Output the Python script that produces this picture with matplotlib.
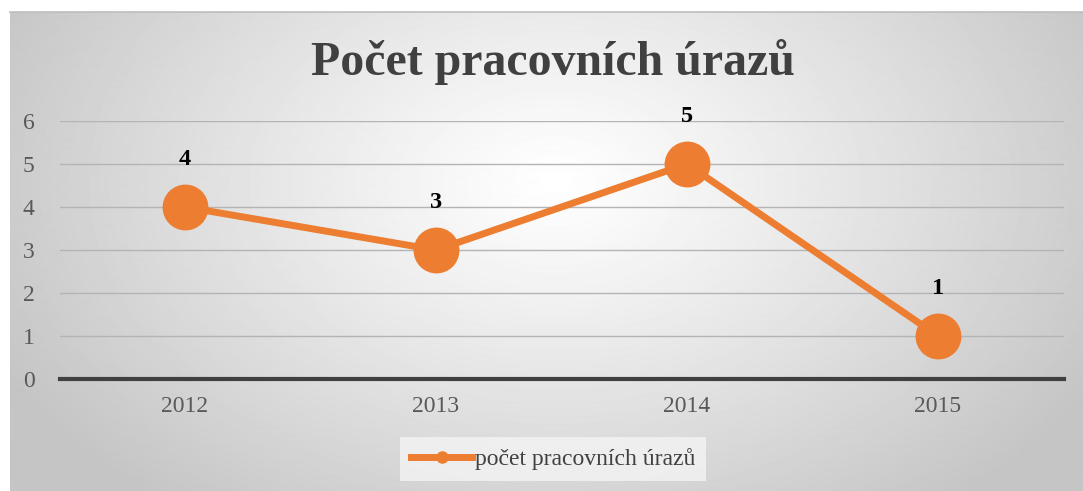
import numpy as np
import matplotlib
matplotlib.use("Agg")
import matplotlib.pyplot as plt
from matplotlib.lines import Line2D

plt.rcParams['font.family'] = ['Liberation Serif', 'DejaVu Serif']

years = ["2012", "2013", "2014", "2015"]
injuries = [4, 3, 5, 1]
title = "Počet pracovních úrazů"
series_name = "počet pracovních úrazů"

W, H = 1083, 491
orange = "#ED7D31"

fig = plt.figure(figsize=(W / 100, H / 100), dpi=100)

# radial gradient background panel
bg = fig.add_axes([10 / W, 0, 1 - 10 / W, 1 - 12 / H])
yy, xx = np.mgrid[0:480, 0:1073]
cx, cy = 545, 170
r = np.sqrt(((xx - cx) / 620.0) ** 2 + ((yy - cy) / 420.0) ** 2)
r = np.clip(r, 0, 1)
shade = 1.0 - (1.0 - 0.77) * r ** 1.1
bg.imshow(shade, cmap="gray", vmin=0, vmax=1, aspect="auto",
          extent=[0, 1, 0, 1], interpolation="bilinear")
bg.set_xlim(0, 1)
bg.set_ylim(0, 1)
bg.axis("off")
fig.add_artist(Line2D([10 / W, 1], [1 - 12 / H, 1 - 12 / H],
                      color="#bdbdbd", lw=1.2))

# plotting area
left, right = 59.5, 1063.5
top_px, zero_px = 121, 379
ax = fig.add_axes([left / W, (H - zero_px) / H,
                   (right - left) / W, (zero_px - top_px) / H])
ax.set_facecolor("none")
x = np.arange(len(years))
ax.set_xlim(-0.5, len(years) - 0.5)
ax.set_ylim(0, 6)
ax.set_yticks(range(0, 7))
ax.yaxis.grid(True, color="#b4b4b4", lw=1.0)
ax.set_axisbelow(True)
for s in ["top", "right", "left"]:
    ax.spines[s].set_visible(False)
ax.spines["bottom"].set_color("#404040")
ax.spines["bottom"].set_linewidth(3.0)
ax.spines["bottom"].set_zorder(1)
ax.tick_params(axis="both", length=0, labelsize=17, labelcolor="#595959")
ax.tick_params(axis="y", pad=18)
ax.tick_params(axis="x", pad=12)
ax.set_xticks(x)
ax.set_xticklabels(years)

ax.plot(x, injuries, color=orange, lw=5, marker="o", markersize=32,
        solid_capstyle="round", zorder=3, clip_on=False)
for xi, v in zip(x, injuries):
    ax.annotate(str(v), (xi, v), xytext=(0, 34), textcoords="offset points",
                ha="center", va="center", fontsize=17.5, fontweight="bold",
                color="black")

fig.text(553 / W, 1 - 62 / H, title, ha="center", va="center",
         fontsize=34.5, fontweight="bold", color="#404040")

handle = Line2D([], [], color=orange, lw=5, marker="o", markersize=8)
leg = fig.legend([handle], [series_name], loc="center",
                 bbox_to_anchor=(553 / W, 1 - 459 / H), fontsize=17,
                 frameon=True, fancybox=False, handlelength=2.6,
                 handletextpad=0.1, borderpad=0.45, borderaxespad=0)
leg.get_frame().set_facecolor("#f4f4f4")
leg.get_frame().set_edgecolor("none")
leg.get_frame().set_alpha(0.8)
for t in leg.get_texts():
    t.set_color("#404040")

fig.savefig("out.png", dpi=100)
